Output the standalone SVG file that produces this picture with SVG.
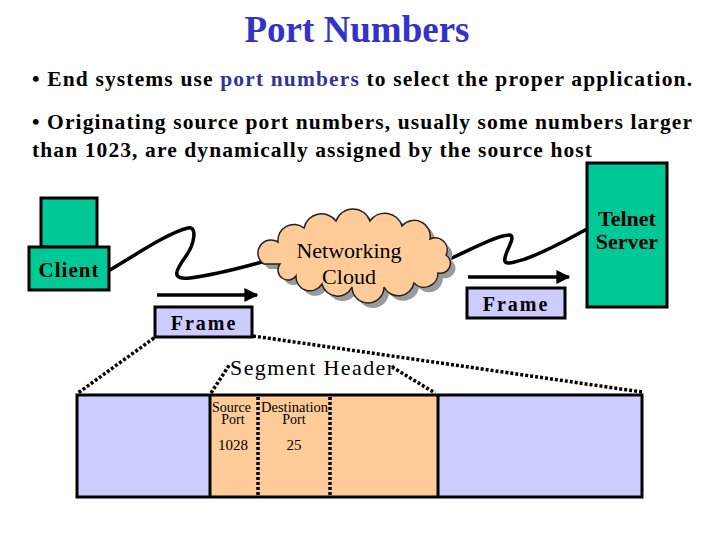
<svg xmlns="http://www.w3.org/2000/svg" width="720" height="540" viewBox="0 0 720 540">
<style>
.t{font-family:"Liberation Serif","Times New Roman",serif;}
.b{font-weight:bold;}
.box{stroke:#000;stroke-width:3;}
.green{fill:#00c896;}
.lav{fill:#ccccff;}
.peach{fill:#ffcc99;}
.wire{fill:none;stroke:#000;stroke-width:3.5;stroke-linecap:round;stroke-linejoin:round;}
.dots{fill:none;stroke:#000;stroke-width:3.5;stroke-dasharray:3 2;}
</style>
<defs>
<marker id="ah" viewBox="0 0 10 10" refX="9" refY="5" markerWidth="4" markerHeight="4" orient="auto" markerUnits="strokeWidth">
<path d="M0,0 L10,5 L0,10 z" fill="#000"/>
</marker>
</defs>
<rect width="720" height="540" fill="#fff"/>
<g id="title">
<text class="t b" x="357" y="42" font-size="37" fill="#3333cc" text-anchor="middle">Port Numbers</text>
<text class="t b" x="32" y="86" font-size="21.5" textLength="660" lengthAdjust="spacing">• End systems use <tspan fill="#333399">port numbers</tspan> to select the proper application.</text>
<text class="t b" x="32" y="129" font-size="21.5" textLength="660" lengthAdjust="spacing">• Originating source port numbers, usually some numbers larger</text>
<text class="t b" x="32" y="157" font-size="21.5" textLength="560" lengthAdjust="spacing">than 1023, are dynamically assigned by the source host</text>
</g>
<g id="connectors">
<path class="wire" d="M110,270 C140,252 170,232 188,228 C198,226 194,245 186,256 C176,270 170,280 190,278 C215,275 240,268 262,262"/>
<path class="wire" d="M452,258 C470,250 495,236 508,235 C518,234 506,250 505,258 C503,266 512,263 525,259 C550,250 570,238 587,229"/>
<line x1="157" y1="295" x2="257" y2="295" stroke="#000" stroke-width="3.5" marker-end="url(#ah)"/>
<line x1="468" y1="277" x2="569" y2="277" stroke="#000" stroke-width="3.5" marker-end="url(#ah)"/>
<path class="dots" d="M154,338 L78,393"/>
<path class="dots" d="M253,336 L642,392"/>
<path class="dots" d="M211,393 L230,364"/>
<path class="dots" d="M392,367 L435,393"/>
</g>
<g id="client">
<rect class="box green" x="41" y="198" width="56" height="49"/>
<rect class="box green" x="29" y="247" width="80" height="43"/>
<text class="t b" x="69" y="277" font-size="21" text-anchor="middle" letter-spacing="1">Client</text>
</g>
<g id="cloud">
<path d="M264,264 a12,12 0 0 1 14,-22 a16,16 0 0 1 26,-14 a18,18 0 0 1 32,-7 a18,18 0 0 1 34,0 a18,18 0 0 1 32,5 a16,16 0 0 1 28,13 a12,12 0 0 1 16,16 a10,10 0 0 1 -8,18 a14,14 0 0 1 -24,10 a16,16 0 0 1 -30,4 a16,16 0 0 1 -32,0 a16,16 0 0 1 -30,-3 a14,14 0 0 1 -26,-8 a10,10 0 0 1 -16,-12 z" fill="#9a9a9a" transform="translate(5,5)"/>
<path d="M264,264 a12,12 0 0 1 14,-22 a16,16 0 0 1 26,-14 a18,18 0 0 1 32,-7 a18,18 0 0 1 34,0 a18,18 0 0 1 32,5 a16,16 0 0 1 28,13 a12,12 0 0 1 16,16 a10,10 0 0 1 -8,18 a14,14 0 0 1 -24,10 a16,16 0 0 1 -30,4 a16,16 0 0 1 -32,0 a16,16 0 0 1 -30,-3 a14,14 0 0 1 -26,-8 a10,10 0 0 1 -16,-12 z" fill="#ffcc99" stroke="#222" stroke-width="1.5"/>
<text class="t" x="349" y="258" font-size="22" text-anchor="middle">Networking</text>
<text class="t" x="349" y="284" font-size="22" text-anchor="middle">Cloud</text>
</g>
<g id="server">
<rect class="box green" x="587" y="163" width="80" height="144"/>
<text class="t b" x="627" y="226" font-size="22" text-anchor="middle">Telnet</text>
<text class="t b" x="627" y="249" font-size="22" text-anchor="middle">Server</text>
</g>
<g id="frame-left">
<rect class="box lav" x="155" y="307" width="97" height="30"/>
<text class="t b" x="204" y="330" font-size="20" text-anchor="middle" letter-spacing="2">Frame</text>
</g>
<g id="frame-right">
<rect class="box lav" x="467" y="288" width="98" height="30"/>
<text class="t b" x="516" y="311" font-size="20" text-anchor="middle" letter-spacing="2">Frame</text>
</g>
<g id="segment-label">
<text class="t" x="230" y="375" font-size="22" textLength="164" lengthAdjust="spacing">Segment Header</text>
</g>
<g id="packet">
<rect class="lav" x="77" y="395" width="133" height="102"/>
<rect class="peach" x="210" y="395" width="228" height="102"/>
<rect class="lav" x="438" y="395" width="204" height="102"/>
<rect x="77" y="395" width="565" height="102" fill="none" class="box" stroke-width="3.5"/>
<line x1="210" y1="395" x2="210" y2="497" stroke="#000" stroke-width="3"/>
<line x1="438" y1="395" x2="438" y2="497" stroke="#000" stroke-width="3"/>
<line class="dots" x1="258" y1="397" x2="258" y2="496"/>
<line class="dots" x1="330" y1="397" x2="330" y2="496"/>
<text class="t" x="212" y="412" font-size="14" textLength="39" lengthAdjust="spacingAndGlyphs">Source</text>
<text class="t" x="233" y="424" font-size="14" text-anchor="middle">Port</text>
<text class="t" x="261" y="412" font-size="14" textLength="67" lengthAdjust="spacingAndGlyphs">Destination</text>
<text class="t" x="294" y="424" font-size="14" text-anchor="middle">Port</text>
<text class="t" x="233" y="450" font-size="15" text-anchor="middle">1028</text>
<text class="t" x="294" y="450" font-size="15" text-anchor="middle">25</text>
</g>
</svg>
